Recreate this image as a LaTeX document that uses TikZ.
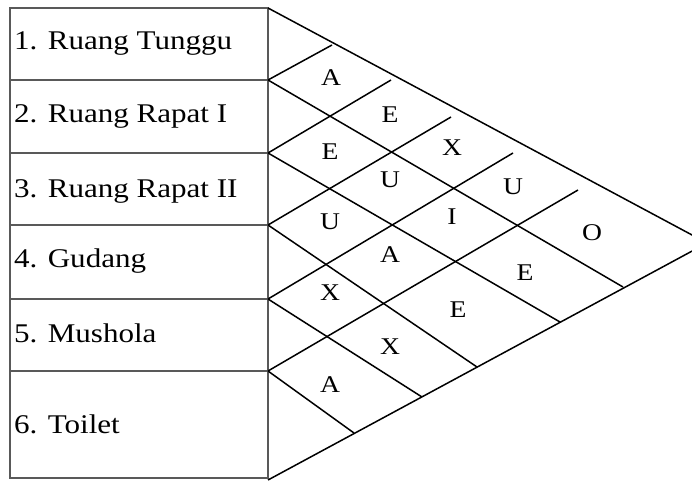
\documentclass[tikz,border=0pt]{standalone}
\usepackage{fontspec}
\setmainfont{Liberation Serif}[FakeStretch=1.15]
\tikzstyle{room} = [anchor=base west, inner sep=0pt, font=\fontsize{27}{30}\selectfont]
\tikzstyle{rel} = [inner sep=0pt, font=\fontsize{24}{26}\selectfont]
\tikzstyle{boxline} = [draw=black!65, line width=2pt]
\tikzstyle{gridline} = [draw=black, line width=1.5pt]

\begin{document}
\begin{tikzpicture}[x=1pt, y=-1pt]
          \useasboundingbox (0,0) rectangle (692,481);
          \clip (0,0) rectangle (692,481);
          % room list
          \coordinate (top) at (268,8);
          \coordinate (p1) at (268,80);
          \coordinate (p2) at (268,153);
          \coordinate (p3) at (268,225);
          \coordinate (p4) at (268,299);
          \coordinate (p5) at (268,371);
          \coordinate (bot) at (268,480);
          \draw [boxline] (10,8) rectangle (268,478);
          \draw [boxline] (10,80) -- (p1);
          \draw [boxline] (10,153) -- (p2);
          \draw [boxline] (10,225) -- (p3);
          \draw [boxline] (10,299) -- (p4);
          \draw [boxline] (10,371) -- (p5);
          \node (r1) [room] at (14,50) {1. Ruang Tunggu};
          \node (r2) [room] at (14,123) {2. Ruang Rapat I};
          \node (r3) [room] at (14,197) {3. Ruang Rapat II};
          \node (r4) [room] at (14,267) {4. Gudang};
          \node (r5) [room] at (14,342) {5. Mushola};
          \node (r6) [room] at (14,433) {6. Toilet};

          % triangle and grid
          \coordinate (tip) at (707,243);
          \coordinate (u1) at (332,45);
          \coordinate (u2) at (391,80);
          \coordinate (u3) at (451,117);
          \coordinate (u4) at (513,153);
          \coordinate (u5) at (578,190);
          \coordinate (d1) at (623,287);
          \coordinate (d2) at (560,322);
          \coordinate (d3) at (477,367);
          \coordinate (d4) at (422,397);
          \coordinate (d5) at (354,433);
          \draw [gridline] (top) -- (tip) -- (bot);
          \draw [gridline] (p1) -- (u1);
          \draw [gridline] (p2) -- (u2);
          \draw [gridline] (p3) -- (u3);
          \draw [gridline] (p4) -- (u4);
          \draw [gridline] (p5) -- (u5);
          \draw [gridline] (p1) -- (d1);
          \draw [gridline] (p2) -- (d2);
          \draw [gridline] (p3) -- (d3);
          \draw [gridline] (p4) -- (d4);
          \draw [gridline] (p5) -- (d5);

          % relationships
          \node (c12) [rel] at (331,78) {A};
          \node (c23) [rel] at (330,152) {E};
          \node (c34) [rel] at (330,222) {U};
          \node (c45) [rel] at (330,293) {X};
          \node (c56) [rel] at (330,385) {A};
          \node (c13) [rel] at (390,115) {E};
          \node (c24) [rel] at (390,180) {U};
          \node (c35) [rel] at (390,255) {A};
          \node (c46) [rel] at (390,347) {X};
          \node (c14) [rel] at (452,148) {X};
          \node (c25) [rel] at (452,217) {I};
          \node (c36) [rel] at (458,310) {E};
          \node (c15) [rel] at (513,187) {U};
          \node (c26) [rel] at (525,273) {E};
          \node (c16) [rel] at (592,233) {O};
        \end{tikzpicture}
\end{document}
